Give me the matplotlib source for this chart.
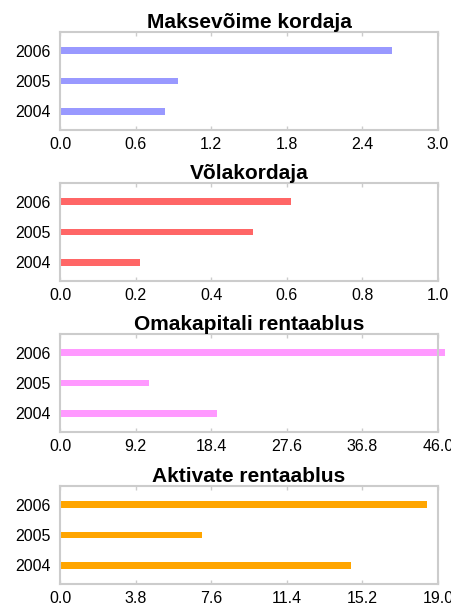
import matplotlib.pyplot as plt

years = ['2004', '2005', '2006']

titles = ['Maksevõime kordaja', 'Võlakordaja', 'Omakapitali rentaablus', 'Aktivate rentaablus']
values = [
    [0.833, 0.934, 2.632],
    [0.212, 0.511, 0.61],
    [19.14, 10.83, 46.85],
    [14.65, 7.14, 18.45],
]
xmaxes = [3.0, 1.0, 46.0, 19.0]
colors = ['#9999ff', '#ff6666', '#ff99ff', '#ffa500']

plt.rcParams['font.family'] = ['Liberation Sans', 'DejaVu Sans']

fig = plt.figure(figsize=(4.52, 6.03), dpi=100, facecolor='white')
W, H = 452.0, 603.0
tops = [32, 183, 334, 486]

for i in range(4):
    top = tops[i]
    ax = fig.add_axes([60 / W, 1 - (top + 98) / H, 378 / W, 98 / H])
    bars = ax.barh(range(3), values[i], height=0.23, color=colors[i])
    for b in bars:
        b.set_clip_on(False)
    ax.set_xlim(0, xmaxes[i])
    ax.set_ylim(-0.63, 2.63)
    ticks = [xmaxes[i] * k / 5 for k in range(6)]
    ax.set_xticks(ticks)
    ax.set_xticklabels(['%.1f' % t for t in ticks])
    ax.set_yticks(range(3))
    ax.set_yticklabels(years)
    ax.tick_params(axis='x', direction='in', length=3, width=1, color='#cccccc',
                   top=True, labelsize=11.5, pad=5)
    ax.tick_params(axis='y', length=0, labelsize=11.5, pad=7)
    for s in ax.spines.values():
        s.set_color('#cccccc')
        s.set_linewidth(1.5)
    ax.set_title(titles[i], fontsize=15, fontweight='bold', pad=3)

fig.savefig('out.png', dpi=100, facecolor='white')
